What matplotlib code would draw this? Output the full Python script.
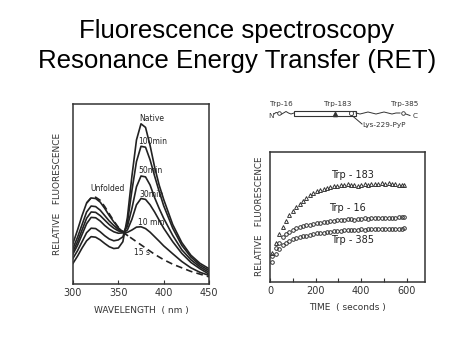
import numpy as np
import matplotlib
matplotlib.use("Agg")
import matplotlib.pyplot as plt
from matplotlib.patches import Rectangle

# ---- left panel: emission spectra during refolding ----
wl = [300, 305, 310, 315, 320, 325, 330, 335, 340, 345, 350, 355, 360, 365, 370, 375,
      380, 385, 390, 395, 400, 410, 420, 430, 440, 450]
native = [0.115, 0.155, 0.2, 0.24, 0.263, 0.26, 0.245, 0.225, 0.207, 0.197, 0.2, 0.235, 0.37,
          0.6, 0.8, 0.89, 0.87, 0.77, 0.65, 0.55, 0.47, 0.33, 0.23, 0.16, 0.115, 0.085]
min100 = [0.143, 0.185, 0.235, 0.285, 0.31, 0.308, 0.29, 0.268, 0.25, 0.24, 0.245, 0.262, 0.34,
          0.52, 0.68, 0.765, 0.76, 0.69, 0.6, 0.515, 0.435, 0.31, 0.215, 0.15, 0.105, 0.075]
min50 = [0.167, 0.215, 0.275, 0.335, 0.37, 0.368, 0.35, 0.325, 0.305, 0.29, 0.282, 0.284, 0.32,
         0.42, 0.54, 0.6, 0.595, 0.55, 0.48, 0.42, 0.365, 0.27, 0.19, 0.135, 0.095, 0.065]
min30 = [0.18, 0.235, 0.3, 0.365, 0.4, 0.398, 0.38, 0.355, 0.33, 0.31, 0.295, 0.287, 0.3,
         0.36, 0.44, 0.475, 0.47, 0.44, 0.4, 0.355, 0.31, 0.235, 0.17, 0.12, 0.085, 0.055]
min10 = [0.198, 0.26, 0.33, 0.4, 0.433, 0.43, 0.41, 0.38, 0.35, 0.325, 0.303, 0.29, 0.287,
         0.3, 0.316, 0.318, 0.308, 0.288, 0.263, 0.238, 0.212, 0.168, 0.125, 0.09, 0.065, 0.048]
wl_15s = [300, 305, 310, 315, 320, 325, 330, 335, 340, 345, 350, 355, 360]
sec15 = [0.226, 0.3, 0.38, 0.45, 0.478, 0.475, 0.455, 0.42, 0.38, 0.345, 0.312, 0.29, 0.27]
wl_unf = [315, 320, 325, 330, 335, 340, 345, 350, 355, 360, 370, 380, 390, 400, 410, 420,
          430, 440, 450]
unfolded = [0.45, 0.48, 0.482, 0.465, 0.43, 0.39, 0.35, 0.315, 0.29, 0.27, 0.235, 0.2, 0.165,
            0.135, 0.11, 0.09, 0.07, 0.055, 0.04]

# ---- right panel: kinetics ----
t = [10, 25, 40, 55, 70, 85, 100, 115, 130, 145, 160, 175, 190, 205, 220, 235, 250, 265,
     280, 295, 310, 325, 340, 355, 370, 385, 400, 415, 430, 445, 460, 475, 490, 505, 520,
     535, 550, 565, 580, 590]
trp183 = [0.22, 0.3, 0.37, 0.42, 0.47, 0.51, 0.545, 0.575, 0.6, 0.625, 0.645, 0.665, 0.68,
          0.695, 0.705, 0.715, 0.722, 0.728, 0.735, 0.738, 0.742, 0.748, 0.75, 0.745, 0.748,
          0.74, 0.745, 0.75, 0.748, 0.752, 0.755, 0.752, 0.758, 0.755, 0.76, 0.755, 0.752,
          0.748, 0.745, 0.742]
trp16 = [0.2, 0.26, 0.3, 0.34, 0.365, 0.385, 0.4, 0.41, 0.42, 0.43, 0.435, 0.44, 0.445,
         0.452, 0.455, 0.46, 0.462, 0.468, 0.47, 0.475, 0.472, 0.478, 0.48, 0.482, 0.478,
         0.485, 0.483, 0.488, 0.485, 0.49, 0.488, 0.49, 0.487, 0.492, 0.49, 0.493, 0.49,
         0.495, 0.497, 0.5]
trp385 = [0.15, 0.21, 0.25, 0.28, 0.3, 0.315, 0.325, 0.335, 0.342, 0.35, 0.355, 0.36, 0.365,
          0.372, 0.375, 0.378, 0.382, 0.385, 0.388, 0.39, 0.392, 0.395, 0.397, 0.395, 0.4,
          0.398, 0.402, 0.4, 0.404, 0.402, 0.405, 0.403, 0.406, 0.404, 0.407, 0.405, 0.408,
          0.406, 0.408, 0.41]

lab_font = "DejaVu Sans"
ink = "#222222"
fig = plt.figure(figsize=(4.74, 3.55), dpi=100)
W, H = 474, 355


def px_axes(x0, y0, x1, y1):
    return fig.add_axes([x0 / W, 1 - y1 / H, (x1 - x0) / W, (y1 - y0) / H])


fig.text(237 / W, 1 - 38 / H, "Fluorescence spectroscopy", ha="center", va="baseline",
         fontsize=18.6, family="Liberation Sans")
fig.text(237 / W, 1 - 68 / H, "Resonance Energy Transfer (RET)", ha="center", va="baseline",
         fontsize=18.6, family="Liberation Sans")

# left spectra
ax1 = px_axes(73, 104, 209, 284)
lw = 1.2
for y in [native, min100, min50, min30, min10]:
    ax1.plot(wl, y, color=ink, lw=lw)
ax1.plot(wl_15s, sec15, color=ink, lw=lw)
ax1.plot(wl_unf, unfolded, color=ink, lw=lw, ls=(0, (4, 2.5)))
ax1.set_xlim(300, 450)
ax1.set_ylim(0, 1)
ax1.set_xticks([300, 350, 400, 450])
ax1.set_yticks([])
ax1.tick_params(axis="x", direction="in", length=3, labelsize=7, pad=3, colors="#333333")
for s in ax1.spines.values():
    s.set_linewidth(1.1)
    s.set_color("#333333")
ax1.set_xlabel("WAVELENGTH  ( nm )", fontsize=6.5, family=lab_font, color="#333333", labelpad=6)
ax1.set_ylabel("RELATIVE   FLUORESCENCE", fontsize=6.5, family=lab_font, color="#333333",
               labelpad=8)
for txt, x, y in [("Native", 387, 0.92), ("100min", 387.5, 0.79), ("50min", 386, 0.628),
                  ("30min", 387, 0.498), ("10 min", 386, 0.34), ("15 s", 376, 0.174),
                  ("Unfolded", 338, 0.53)]:
    ax1.text(x, y, txt, fontsize=5.5, ha="center", va="center", family=lab_font, color=ink)

# right kinetics
ax2 = px_axes(270, 152, 425, 281.5)
ax2.plot(t, trp183, ls="none", marker="^", ms=2.8, mfc="none", mec="#333333", mew=0.7)
ax2.plot(t, trp16, ls="none", marker="o", ms=2.6, mfc="none", mec="#333333", mew=0.7)
ax2.plot(t, trp385, ls="none", marker="o", ms=2.6, mfc="none", mec="#333333", mew=0.7)
ax2.set_xlim(0, 680)
ax2.set_ylim(0, 1)
ax2.set_xticks([0, 100, 200, 300, 400, 500, 600])
ax2.set_xticklabels(["0", "", "200", "", "400", "", "600"])
ax2.set_yticks([])
ax2.tick_params(axis="x", direction="in", length=3, labelsize=7, pad=3, colors="#333333")
for s in ax2.spines.values():
    s.set_linewidth(1.1)
    s.set_color("#333333")
ax2.set_xlabel("TIME  ( seconds )", fontsize=6.5, family=lab_font, color="#333333", labelpad=5)
ax2.set_ylabel("RELATIVE   FLUORESCENCE", fontsize=6.3, family=lab_font, color="#333333",
               labelpad=4)
for txt, x, y in [("Trp - 183", 360, 0.82), ("Trp - 16", 338, 0.57), ("Trp - 385", 364, 0.318)]:
    ax2.text(x, y, txt, fontsize=7, ha="center", va="center", family=lab_font, color=ink)

# protein schematic above the kinetics panel (pixel coordinates)
ax3 = px_axes(265, 98, 430, 130)
ax3.set_xlim(265, 430)
ax3.set_ylim(130, 98)
ax3.axis("off")
ink2 = "#333333"
ax3.plot([274, 276, 278.5, 281, 283.5, 286, 288.5, 291, 294],
         [114, 112.5, 113, 114.5, 113, 111.5, 113, 114, 113], color=ink2, lw=0.7)
ax3.plot([356, 360, 364, 368, 372, 376, 380, 384, 388, 392, 396, 400],
         [113, 114, 113, 112, 113, 114, 113, 112, 113, 114, 113, 113], color=ink2, lw=0.7)
ax3.plot([403, 410], [113, 115.5], color=ink2, lw=0.7)
ax3.plot([352, 362], [115.5, 124], color=ink2, lw=0.7)
ax3.add_patch(Rectangle((294, 110.5), 62, 5, fill=False, ec=ink2, lw=0.8))
ax3.plot([278.5], [113], marker="o", ms=2.6, mfc="white", mec=ink2, mew=0.6)
ax3.plot([351], [113], marker="o", ms=3.0, mfc="white", mec=ink2, mew=0.6)
ax3.plot([403], [113], marker="o", ms=2.6, mfc="white", mec=ink2, mew=0.6)
ax3.plot([335], [113.5], marker="^", ms=3.0, color=ink2)
for txt, x, y, ha in [("Trp-16", 281, 104, "center"), ("Trp-183", 338, 104, "center"),
                      ("Trp-385", 405, 104, "center"), ("N", 271, 115.5, "center"),
                      ("C", 415, 116.5, "center"), ("Lys-229-PyP", 362, 125.5, "left")]:
    ax3.text(x, y, txt, fontsize=5.2, ha=ha, va="center", family=lab_font, color=ink2)

fig.savefig("out.png", dpi=100)
